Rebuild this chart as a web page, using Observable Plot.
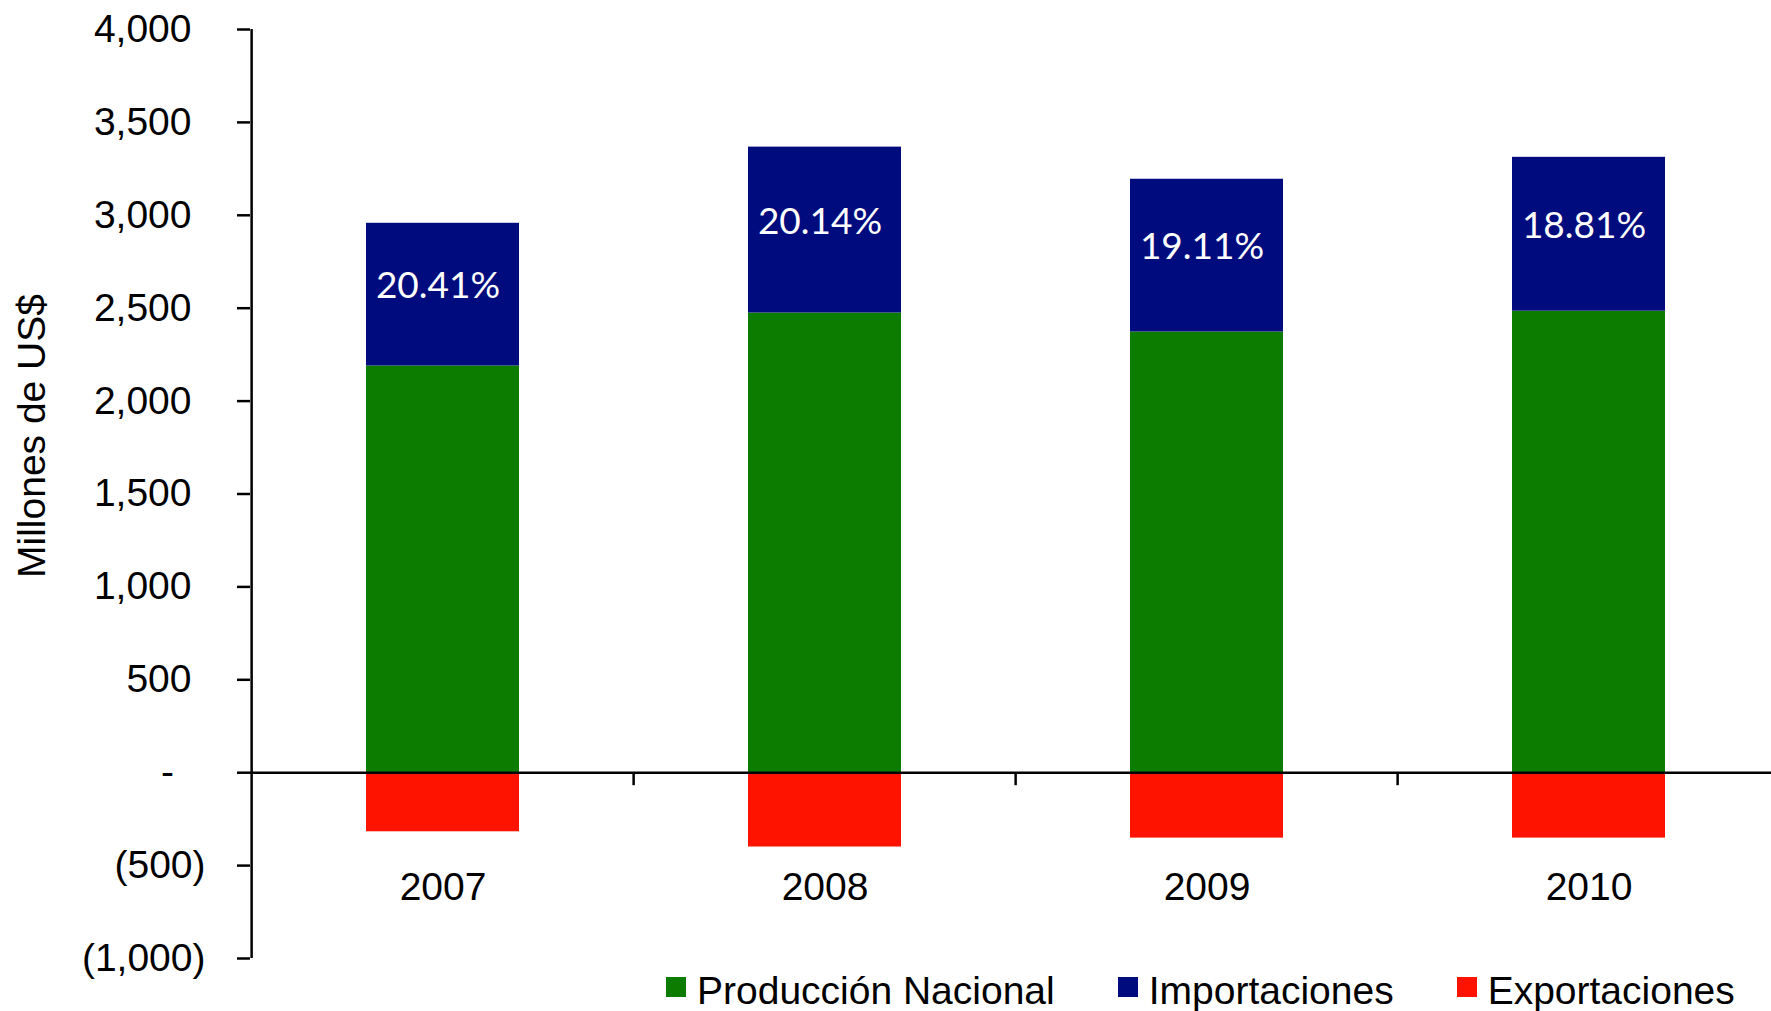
<!DOCTYPE html>
<html><head><meta charset="utf-8">
<script src="https://cdn.jsdelivr.net/npm/d3@7"></script>
<script src="https://cdn.jsdelivr.net/npm/@observablehq/plot@0.6"></script>
<style>
body{margin:0;background:#fff;font-family:"Liberation Sans",Arial,sans-serif;}
#legend{display:flex;align-items:center;height:41px;line-height:41px;padding-left:666px;font-size:39px;color:#000;white-space:nowrap;}
.item{display:flex;align-items:center;margin-right:63px;}
.sw{width:20px;height:20px;margin-right:11px;position:relative;top:-4px;}
</style></head><body><div id="chart"></div><div id="legend"></div>
<script>
const years = ["2007", "2008", "2009", "2010"];
const produccion = [2189, 2474, 2372, 2484];
const importaciones = [768, 893, 822, 828];
const exportaciones = [-318, -400, -352, -352];
const participacion = ["20.41%", "20.14%", "19.11%", "18.81%"];
const series = ["Producción Nacional", "Importaciones", "Exportaciones"];
const colors = ["#0C7C00", "#000B7E", "#FE1200"];
const yTicks = [-1000, -500, 0, 500, 1000, 1500, 2000, 2500, 3000, 3500, 4000];
const yTitle = "Millones de US$";

const rows = [];
years.forEach((y, i) => {
  rows.push({year: y, serie: series[0], value: produccion[i]});
  rows.push({year: y, serie: series[1], value: importaciones[i]});
  rows.push({year: y, serie: series[2], value: exportaciones[i]});
});

const W = 1771, H = 970;
const xRange = [250, 1781];
const step = (xRange[1] - xRange[0]) / years.length;
const fmt = d => d3.format(",")(Math.abs(d));
const font = "Liberation Sans, Arial, sans-serif";
const yMin = d3.min(yTicks), yMax = d3.max(yTicks);

const chart = Plot.plot({
  width: W,
  height: H,
  marginLeft: 250,
  marginRight: 0,
  marginTop: 29,
  marginBottom: 12,
  style: {fontFamily: font, overflow: "visible", background: "#fff"},
  x: {domain: years, range: xRange, paddingInner: 0.6, paddingOuter: 0.3, axis: null},
  y: {domain: [yMin, yMax], axis: null},
  color: {domain: series, range: colors},
  marks: [
    Plot.barY(rows, {x: "year", y: "value", fill: "serie"}),
    Plot.axisY({ticks: yTicks, tickSize: 13, tickFormat: () => "", strokeWidth: 2.5, stroke: "#000", label: null}),
    Plot.ruleX([years[0]], {x: d => d, dx: -step / 2, y1: yMax, y2: yMin, stroke: "#000", strokeWidth: 2.5}),
    Plot.ruleY([0], {stroke: "#000", strokeWidth: 2.5}),
    Plot.ruleX(years.slice(1), {x: d => d, y1: 0, y2: 0, insetBottom: -13, dx: -step / 2, stroke: "#000", strokeWidth: 2.5}),
    Plot.text(yTicks.filter(d => d > 0), {y: d => d, text: fmt, frameAnchor: "left", textAnchor: "end", dx: -59, fontSize: 39, fill: "#000"}),
    Plot.text(yTicks.filter(d => d < 0), {y: d => d, text: d => "(" + fmt(d) + ")", frameAnchor: "left", textAnchor: "end", dx: -45, fontSize: 39, fill: "#000"}),
    Plot.text(yTicks.filter(d => d === 0), {y: d => d, text: () => "-", frameAnchor: "left", textAnchor: "middle", dx: -83, fontSize: 39, fill: "#000"}),
    Plot.text(years, {x: d => d, text: d => d, frameAnchor: "bottom", lineAnchor: "middle", dy: -71, fontSize: 39, fill: "#000"}),
    Plot.text(years, {x: d => d, y: (d, i) => produccion[i] + importaciones[i] / 2, text: (d, i) => participacion[i], fill: "#fff", fontSize: 37, fontFamily: "Lato", dx: -5, dy: -8}),
    Plot.text([yTitle], {text: d => d, frameAnchor: "left", rotate: -90, textAnchor: "middle", lineAnchor: "middle", dx: -218, dy: -58, fontSize: 39, fill: "#000"})
  ]
});
document.getElementById("chart").appendChild(chart);

const legend = document.getElementById("legend");
series.forEach((s, i) => {
  const item = document.createElement("div");
  item.className = "item";
  const sw = document.createElement("div");
  sw.className = "sw";
  sw.style.background = colors[i];
  const t = document.createElement("span");
  t.textContent = s;
  item.appendChild(sw);
  item.appendChild(t);
  legend.appendChild(item);
});
</script></body></html>
